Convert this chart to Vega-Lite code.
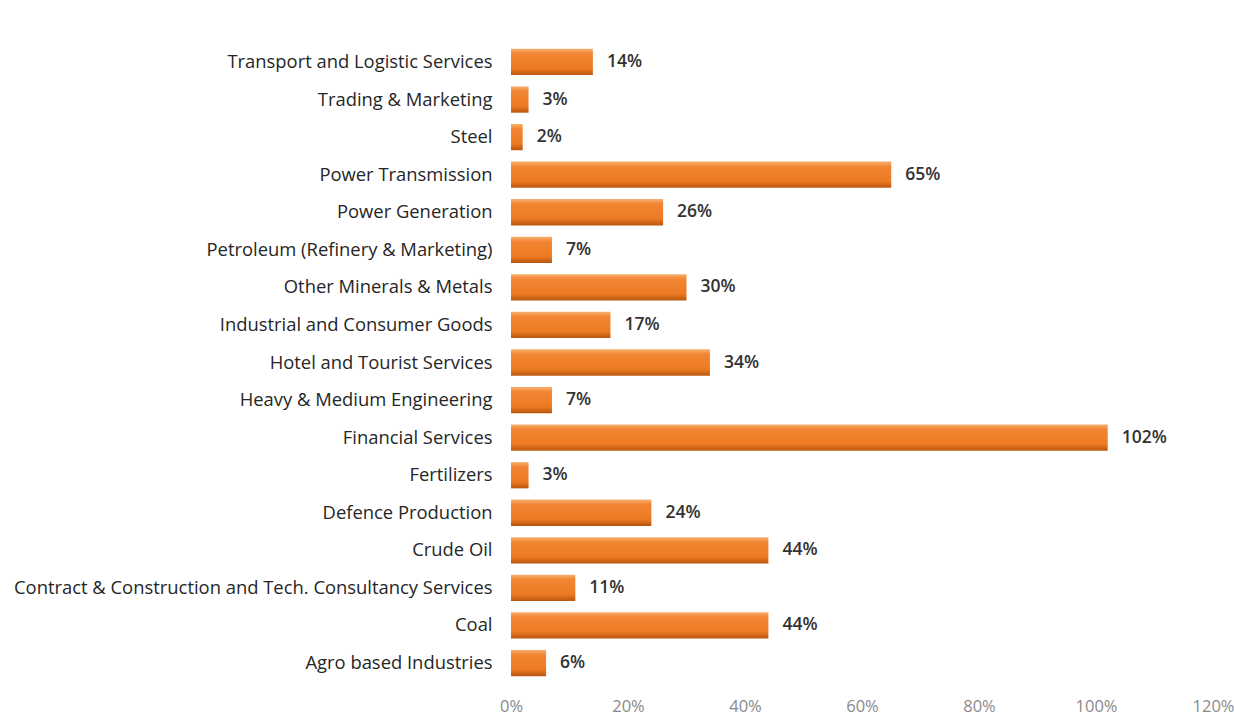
{
  "$schema": "https://vega.github.io/schema/vega-lite/v6.json",
  "autosize": {"type": "none"},
  "width": 702,
  "height": 639,
  "padding": {"left": 511, "top": 43, "right": 21, "bottom": 35},
  "background": "white",
  "config": {"view": {"stroke": null}, "font": "Open Sans"},
  "data": {
    "values": [
      {"sector": "Transport and Logistic Services", "value": 0.14},
      {"sector": "Trading & Marketing", "value": 0.03},
      {"sector": "Steel", "value": 0.02},
      {"sector": "Power Transmission", "value": 0.65},
      {"sector": "Power Generation", "value": 0.26},
      {"sector": "Petroleum (Refinery & Marketing)", "value": 0.07},
      {"sector": "Other Minerals & Metals", "value": 0.30},
      {"sector": "Industrial and Consumer Goods", "value": 0.17},
      {"sector": "Hotel and Tourist Services", "value": 0.34},
      {"sector": "Heavy & Medium Engineering", "value": 0.07},
      {"sector": "Financial Services", "value": 1.02},
      {"sector": "Fertilizers", "value": 0.03},
      {"sector": "Defence Production", "value": 0.24},
      {"sector": "Crude Oil", "value": 0.44},
      {"sector": "Contract & Construction and Tech. Consultancy Services", "value": 0.11},
      {"sector": "Coal", "value": 0.44},
      {"sector": "Agro based Industries", "value": 0.06}
    ]
  },
  "encoding": {
    "y": {
      "field": "sector",
      "type": "nominal",
      "sort": null,
      "scale": {"paddingInner": 0.3, "paddingOuter": 0.155},
      "axis": {
        "title": null,
        "domain": false,
        "ticks": false,
        "labelFontSize": 18.4,
        "labelColor": "#262626",
        "labelPadding": 19,
        "labelLimit": 600
      }
    },
    "x": {
      "field": "value",
      "type": "quantitative",
      "scale": {"domain": [0, 1.2], "nice": false},
      "axis": {
        "title": null,
        "format": ".0%",
        "values": [0, 0.2, 0.4, 0.6, 0.8, 1.0, 1.2],
        "domain": false,
        "ticks": false,
        "grid": false,
        "labelFlush": false,
        "labelFontSize": 16.5,
        "labelColor": "#8a8a8a",
        "labelPadding": 16
      }
    }
  },
  "layer": [
    {
      "mark": {
        "type": "bar",
        "color": {
          "gradient": "linear",
          "x1": 0, "y1": 0, "x2": 0, "y2": 1,
          "stops": [
            {"offset": 0, "color": "#F8B070"},
            {"offset": 0.18, "color": "#F28634"},
            {"offset": 0.75, "color": "#EC7A22"},
            {"offset": 1, "color": "#B8560E"}
          ]
        }
      }
    },
    {
      "mark": {
        "type": "text",
        "align": "left",
        "baseline": "middle",
        "dx": 14,
        "fontSize": 17.5,
        "fontWeight": 600,
        "color": "#333333"
      },
      "encoding": {
        "text": {"field": "value", "type": "quantitative", "format": ".0%"}
      }
    }
  ]
}
